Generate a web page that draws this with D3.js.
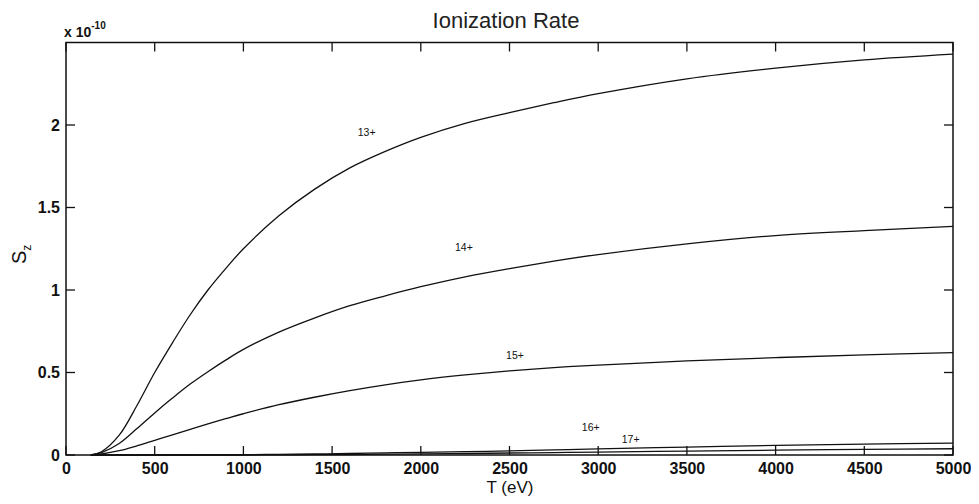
<!DOCTYPE html>
<html><head><meta charset="utf-8">
<script src="https://cdn.jsdelivr.net/npm/d3@7"></script>
<style>body{margin:0;background:#fff}svg{display:block}</style>
</head><body>
<svg id="c" width="979" height="504"></svg>
<script>
const temps = [140,200,300,400,500,600,700,800,900,1000,1200,1400,1600,1800,2000,2250,2500,2750,3000,3500,4000,4500,5000];
const s13 = [0,0.02,0.12,0.30,0.50,0.68,0.85,1.00,1.13,1.25,1.45,1.61,1.74,1.84,1.925,2.01,2.075,2.135,2.19,2.28,2.345,2.395,2.43];
const s14 = [0,0.015,0.07,0.16,0.255,0.345,0.43,0.505,0.575,0.64,0.745,0.83,0.905,0.965,1.02,1.08,1.13,1.175,1.215,1.28,1.33,1.36,1.385];
const s15 = [0,0.006,0.026,0.056,0.089,0.122,0.156,0.189,0.22,0.25,0.305,0.35,0.39,0.425,0.455,0.485,0.51,0.53,0.545,0.57,0.59,0.607,0.62];
const s16 = [0,0,0,0,0,0,0,0.001,0.001,0.002,0.004,0.006,0.009,0.013,0.016,0.02,0.025,0.031,0.037,0.048,0.058,0.066,0.072];
const s17 = [0,0,0,0,0,0,0,0,0,0,0.001,0.002,0.003,0.005,0.007,0.009,0.012,0.015,0.018,0.024,0.029,0.034,0.038];
const seriesNames = ["13+","14+","15+","16+","17+"];
const labelT = [1695,2243,2531,2958,3183];
const labelS = [1.956,1.258,0.607,0.170,0.100];
const xTicks = [0,500,1000,1500,2000,2500,3000,3500,4000,4500,5000];
const yTicks = [0,0.5,1,1.5,2];

const svg = d3.select("#c");
const L=66, R=953, T=42.5, B=455;
const x = d3.scaleLinear().domain([0,5000]).range([L,R]);
const y = d3.scaleLinear().domain([0,2.5]).range([B,T]);
const font = "'Liberation Sans', Arial, Helvetica, sans-serif";

const allSeries = [s13,s14,s15,s16,s17];
const line = d3.line().x((d,i)=>x(temps[i])).y(d=>y(d)).curve(d3.curveCatmullRom.alpha(0.5));
svg.append("g").selectAll("path").data(allSeries).join("path")
  .attr("d", d=>line(d)).attr("fill","none").attr("stroke","#111").attr("stroke-width",1.3);

// frame
svg.append("rect").attr("x",L).attr("y",T).attr("width",R-L).attr("height",B-T)
  .attr("fill","none").attr("stroke","#111").attr("stroke-width",1.5);

const tl = 9;
const ax = d3.axisBottom(x).tickValues(xTicks).tickSize(0).tickPadding(8).tickFormat(d3.format("d"));
const gx = svg.append("g").attr("transform",`translate(0,${B})`).call(ax);
gx.select(".domain").remove();
gx.selectAll("text").attr("font-family",font).attr("font-size",16).attr("font-weight","bold").attr("fill","#111");
const ay = d3.axisLeft(y).tickValues(yTicks).tickSize(0).tickPadding(6).tickFormat(d=>d);
const gy = svg.append("g").attr("transform",`translate(${L},0)`).call(ay);
gy.select(".domain").remove();
gy.selectAll("text").attr("font-family",font).attr("font-size",16).attr("font-weight","bold").attr("fill","#111");

// inward ticks on all four sides
const tg = svg.append("g").attr("stroke","#111").attr("stroke-width",1.3);
xTicks.forEach(t=>{
  tg.append("line").attr("x1",x(t)).attr("x2",x(t)).attr("y1",B).attr("y2",B-tl);
  tg.append("line").attr("x1",x(t)).attr("x2",x(t)).attr("y1",T).attr("y2",T+tl);
});
yTicks.forEach(t=>{
  tg.append("line").attr("x1",L).attr("x2",L+tl).attr("y1",y(t)).attr("y2",y(t));
  tg.append("line").attr("x1",R).attr("x2",R-tl).attr("y1",y(t)).attr("y2",y(t));
});

// curve labels
svg.append("g").selectAll("text").data(seriesNames).join("text")
  .attr("x",(d,i)=>x(labelT[i])).attr("y",(d,i)=>y(labelS[i])+4)
  .attr("text-anchor","middle").attr("font-family",font).attr("font-size",10.5).attr("fill","#111")
  .text(d=>d);

// title
svg.append("text").attr("x",506).attr("y",28).attr("text-anchor","middle")
  .attr("font-family",font).attr("font-size",22).attr("fill","#222").text("Ionization Rate");

// x label
svg.append("text").attr("x",510).attr("y",493).attr("text-anchor","middle")
  .attr("font-family",font).attr("font-size",17).attr("fill","#111").text("T (eV)");

// y label
const yl = svg.append("text").attr("transform","translate(26,264) rotate(-90)")
  .attr("font-family",font).attr("font-size",20).attr("fill","#111");
yl.append("tspan").text("S");
yl.append("tspan").attr("dy",5).attr("font-size",12).text("z");

// exponent
const ex = svg.append("text").attr("x",64).attr("y",37).attr("font-family",font)
  .attr("font-size",14).attr("font-weight","bold").attr("fill","#111");
ex.append("tspan").text("x 10");
ex.append("tspan").attr("dy",-8).attr("font-size",10).text("-10");
</script>
</body></html>
